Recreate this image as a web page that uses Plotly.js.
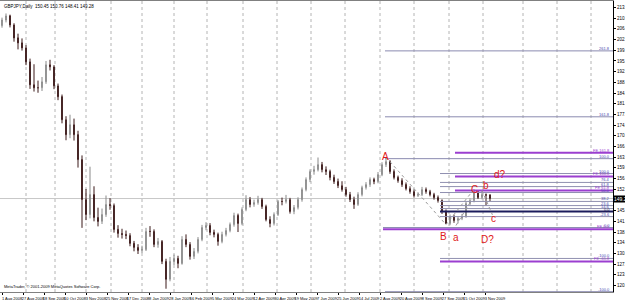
<!DOCTYPE html>
<html><head><meta charset="utf-8">
<script src="https://cdn.plot.ly/plotly-3.0.1.min.js"></script>
<style>html,body{margin:0;padding:0;background:#fff}#chart{width:625px;height:300px}</style>
</head><body><div id="chart"></div>
<script>
const symbol = "GBPJPY,Daily";
const lastBar = [150.45, 150.76, 148.41, 149.28];
const copyright = "MetaTrader, \u00a9 2001-2009 MetaQuotes Software Corp.";

const open = [207.5,209.4,210.8,207.7,203.4,201.7,200.0,195.3,187.6,186.6,
186.6,188.6,194.3,193.6,187.2,183.6,175.8,170.8,174.1,170.8,
162.4,148.9,143.9,150.6,142.9,141.6,143.9,147.3,146.9,138.9,
137.5,137.2,136.8,134.2,132.8,131.8,132.1,138.2,138.2,133.8,
134.8,128.1,122.1,128.1,129.1,127.4,135.5,133.8,129.8,131.5,
135.5,139.5,140.2,137.9,137.2,134.8,137.2,138.5,140.5,143.6,
140.9,145.6,148.9,147.3,147.9,148.9,146.6,142.2,140.9,143.9,
148.3,148.3,148.9,144.9,146.3,148.9,152.3,155.7,158.4,159.0,
160.7,159.0,158.4,156.4,155.0,153.6,152.3,150.6,148.9,147.3,
150.6,153.0,154.0,155.7,155.0,157.3,160.7,161.7,158.4,156.4,
155.3,154.0,152.6,151.6,150.3,150.6,152.3,151.6,150.6,149.6,
148.6,144.9,140.9,143.2,141.9,142.6,143.2,147.6,148.6,151.6,
149.6,150.6,150.45];
const high = [210.2,211.6,211.2,208.3,204.8,203.2,200.9,196.4,194.5,189.0,
190.2,195.6,196.0,194.2,188.0,184.3,177.0,177.5,176.2,172.1,
163.8,152.5,160.0,153.4,146.2,145.9,150.3,149.4,147.6,140.3,
139.1,138.5,137.6,135.0,133.9,133.4,139.4,140.0,138.9,136.0,
135.3,129.0,129.6,130.4,130.0,136.6,137.2,134.6,132.6,136.3,
140.4,141.3,141.0,138.8,137.8,138.1,139.4,141.2,144.5,144.2,
146.3,150.4,149.8,148.9,150.2,149.5,147.2,143.3,144.6,148.8,
149.6,150.5,149.5,147.1,149.7,153.0,156.4,159.1,160.3,163.1,
161.6,160.1,159.0,157.3,156.0,155.1,153.2,151.5,149.9,151.4,
153.6,154.8,156.4,156.3,158.2,161.5,163.2,162.2,159.1,157.0,
156.1,154.7,153.4,152.3,151.4,153.2,153.0,152.2,151.2,150.3,
149.0,145.6,143.9,143.8,143.2,144.1,148.2,149.3,152.4,152.1,
151.9,151.0,150.76];
const low = [206.8,208.6,206.9,202.1,199.5,199.1,194.2,186.2,185.3,184.9,
185.5,187.9,192.4,186.1,182.4,174.6,168.9,169.6,168.8,159.7,
139.4,142.0,142.6,141.6,139.9,140.7,143.1,145.5,137.8,136.1,
135.8,135.6,133.2,131.5,130.6,130.9,131.6,136.4,132.9,132.7,
127.2,118.9,121.4,126.9,125.8,127.0,132.9,128.7,128.9,130.8,
134.9,138.6,136.9,136.2,133.4,134.2,136.5,137.9,139.8,138.0,
140.3,145.0,146.3,146.5,147.2,145.8,141.6,139.6,140.2,143.4,
147.0,147.6,144.2,144.0,145.6,148.2,151.7,154.8,157.3,158.4,
158.1,157.2,155.4,154.2,152.8,151.6,149.9,148.1,145.8,146.8,
150.0,152.3,153.2,154.1,154.4,156.8,159.9,157.6,155.7,154.6,
153.2,152.0,150.9,149.6,149.8,150.1,150.9,150.0,148.9,147.9,
144.1,140.7,140.3,141.1,140.9,142.0,142.8,147.0,148.0,149.1,
149.0,146.9,148.41];
const close = [209.42,210.76,207.74,203.37,201.69,200.01,195.31,187.58,186.57,186.57,
188.59,194.30,193.63,187.24,183.55,175.82,170.78,174.14,170.78,162.38,
148.94,143.90,150.62,142.89,141.55,143.90,147.26,146.92,138.86,137.52,
137.18,136.84,134.16,132.81,131.80,132.14,138.19,138.19,133.82,134.83,
128.11,122.06,128.11,129.12,127.44,135.50,133.82,129.79,131.47,135.50,
139.53,140.20,137.85,137.18,134.83,137.18,138.52,140.54,143.56,140.88,
145.58,148.94,147.26,147.93,148.94,146.59,142.22,140.88,143.90,148.27,
148.27,148.94,144.91,146.25,148.94,152.30,155.66,158.35,159.02,160.70,
159.02,158.35,156.37,154.99,153.64,152.30,150.62,148.94,147.26,150.62,
152.97,153.98,155.66,154.99,157.34,160.70,161.71,158.35,156.37,155.32,
153.98,152.64,151.63,150.28,150.62,152.30,151.63,150.62,149.61,148.60,
144.91,140.88,143.23,141.88,142.56,143.23,147.60,148.60,151.63,149.61,
150.62,150.40,149.28];

// time axis: bar index of each date label, and of each month start
const tickIdx = [0,5.25,10.5,15.75,21,26.25,31.5,36.75,42,47.25,52.5,57.75,63,68.25,73.5,78.75,84,89.25,94.5,99.75,105,110.25,115.5,120.75];
const tickText = ["1 Aug 2008","27 Aug 2008","18 Sep 2008","10 Oct 2008","3 Nov 2008","25 Nov 2008","17 Dec 2008","8 Jan 2009","28 Jan 2009","16 Feb 2009","5 Mar 2009","24 Mar 2009","12 Apr 2009","30 Apr 2009","19 May 2009","7 Jun 2009","25 Jun 2009","14 Jul 2009","2 Aug 2009","20 Aug 2009","8 Sep 2009","27 Sep 2009","15 Oct 2009","3 Nov 2009"];
const monthIdx = [6,13.25,21,27.25,35,43,51.25,60.25,68.75,77.25,85.75,94.5,103,111.75,120.25,130.25,138.75,147.25];
const yTicks = [116.40,120.00,123.60,127.20,130.80,134.40,138.00,141.60,145.20,148.80,152.40,156.00,159.60,163.20,166.80,170.40,174.00,177.60,181.20,184.80,188.40,192.00,195.60,199.20,202.80,206.40,210.00,213.60];

// Fibonacci objects
const fibPrice = [199.0,176.8,162.7,139.5,117.9, 164.7,156.7,152.0,138.9,128.1, 157.7,154.7,153.3,151.3,148.3,146.9,145.9,143.2,129.1, 144.9];
const fibFrom  = [95.75,95.75,95.75,95.25,95.75, 113.25,113.25,113.25,95.25,109.5, 109.5,109.5,109.5,109.5,109.5,109.5,109.5,109.5,109.5, 109.5];
const fibKind  = ["g","g","g","g","g", "p","p","p","p","p", "r","r","r","r","r","r","r","r","r", "n"];
const fibLabel = ["261.8","161.8","100.0","0.0","-100.0", "FE 161.8","FE 100.0","FE 61.8","FE 0.0","FE -61.8", "100.0","76.4","61.8","50.0","38.2","23.6","14.6","-23.6","-100.0", "0.0"];

// wave count drawing
const waveX1 = [96, 111, 118], waveY1 = [163.2, 140.5, 152.4];
const waveX2 = [113.5, 117.5], waveY2 = [140.2, 149.0];
const waveX3 = [120, 122.6], waveY3 = [152.0, 143.8];
const waveText = ["A","B","a","C","b","c","d?","D?"];
const waveTX = [95.8, 110.3, 113.6, 118.0, 121.0, 122.8, 124.6, 121.3];
const waveTY = [163.6, 136.6, 136.3, 152.4, 153.6, 142.6, 157.4, 135.4];

const bars = close.map((_, i) => i);
const xEnd = 152.75;

const traces = [{
  type: 'candlestick', x: bars, open: open, high: high, low: low, close: close,
  increasing: {line: {color: '#8a8a8a', width: 1}, fillcolor: '#dcdcdc'},
  decreasing: {line: {color: '#3a1818', width: 1}, fillcolor: '#6e3434'},
  whiskerwidth: 0, hoverinfo: 'skip', showlegend: false
}];

const kindStyle = {
  g: {color: '#8a8ab0', width: 1},
  p: {color: '#9b3fd0', width: 2},
  r: {color: '#9090b0', width: 1},
  n: {color: '#1c1c5c', width: 2}
};
const labelColor = {g: '#4a4ab0', p: '#9b3fd0', r: '#4a4ab0', n: '#1c1c5c'};
const annotations = [];
fibPrice.forEach((p, k) => {
  traces.push({type: 'scatter', mode: 'lines', x: [fibFrom[k], xEnd], y: [p, p],
    line: kindStyle[fibKind[k]], hoverinfo: 'skip', showlegend: false});
  annotations.push({xref: 'paper', x: 0.997, xanchor: 'right', yref: 'y', y: p, yanchor: 'bottom',
    text: fibLabel[k], showarrow: false, font: {size: 4, color: labelColor[fibKind[k]], family: 'Liberation Sans'},
    borderpad: 0, yshift: -1});
});
[[waveX1, waveY1], [waveX2, waveY2], [waveX3, waveY3]].forEach(([wx, wy]) => {
  traces.push({type: 'scatter', mode: 'lines', x: wx, y: wy,
    line: {color: '#9a9a9a', width: 1, dash: 'dot'}, hoverinfo: 'skip', showlegend: false});
});
waveText.forEach((t, k) => {
  annotations.push({x: waveTX[k], y: waveTY[k], xref: 'x', yref: 'y', text: t, showarrow: false,
    font: {size: 10, color: '#e01818', family: 'Liberation Sans'}});
});
annotations.push({xref: 'paper', yref: 'paper', x: 0.004, y: 0.995, xanchor: 'left', yanchor: 'top',
  text: symbol + '  ' + lastBar.map(v => v.toFixed(2)).join(' '), showarrow: false,
  font: {size: 4.5, color: '#000', family: 'Liberation Sans'}});
annotations.push({xref: 'paper', yref: 'paper', x: 0.003, y: 0.005, xanchor: 'left', yanchor: 'bottom',
  text: copyright, showarrow: false, font: {size: 4, color: '#000', family: 'Liberation Sans'}});
annotations.push({xref: 'paper', x: 1, xanchor: 'left', yref: 'y', y: lastBar[3], yanchor: 'middle',
  text: lastBar[3].toFixed(2), showarrow: false, bgcolor: '#000', borderpad: 0,
  font: {size: 5, color: '#fff', family: 'Liberation Sans'}});

const shapes = [{type: 'line', xref: 'paper', x0: 0, x1: 1, yref: 'y', y0: lastBar[3], y1: lastBar[3],
  line: {color: '#c8c8c8', width: 1}, layer: 'below'}];
monthIdx.forEach(m => shapes.push({type: 'line', xref: 'x', x0: m, x1: m, yref: 'paper', y0: 0, y1: 1,
  line: {color: '#b4b4b4', width: 1, dash: 'dot'}, layer: 'below'}));

const layout = {
  width: 625, height: 300,
  margin: {l: 0, r: 12, t: 1, b: 8},
  paper_bgcolor: '#fff', plot_bgcolor: '#fff',
  showlegend: false,
  boxgap: 0.72,
  xaxis: {range: [-0.5, xEnd], tickmode: 'array', tickvals: tickIdx, ticktext: tickText,
    showgrid: false, zeroline: false, showline: true, linecolor: '#808080', mirror: true,
    ticks: 'outside', ticklen: 2, tickcolor: '#000', tickangle: 0, ticklabelshift: 10, ticklabelstandoff: 0,
    tickfont: {size: 4, color: '#000', family: 'Liberation Sans'},
    rangeslider: {visible: false}, fixedrange: true},
  yaxis: {side: 'right', range: [117.8, 215.8], tickmode: 'array', tickvals: yTicks,
    ticktext: yTicks.map(v => v.toFixed(2)), showgrid: false, zeroline: false,
    showline: true, linecolor: '#000', ticks: 'outside', ticklen: 2, tickcolor: '#000',
    tickfont: {size: 4.5, color: '#000', family: 'Liberation Sans'}},
  shapes: shapes,
  annotations: annotations
};
Plotly.newPlot('chart', traces, layout, {staticPlot: true, displayModeBar: false});
</script></body></html>
